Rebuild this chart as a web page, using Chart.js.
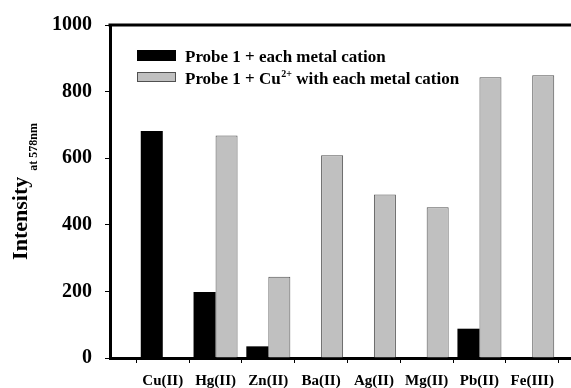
<!DOCTYPE html>
<html>
<head>
<meta charset="utf-8">
<script src="https://cdn.jsdelivr.net/npm/chart.js@4"></script>
<style>
  html, body { margin: 0; padding: 0; background: #fff; overflow: hidden; }
  #wrap { width: 571px; height: 388px; overflow: hidden; position: relative; }
  canvas { display: block; }
</style>
</head>
<body>
<div id="wrap"><canvas id="c" width="600" height="388"></canvas></div>
<script>
// ---- data ----
const categories = ['Cu(II)', 'Hg(II)', 'Zn(II)', 'Ba(II)', 'Ag(II)', 'Mg(II)', 'Pb(II)', 'Fe(III)'];
const probeOnly = [682, 198, 35, 0, 0, 0, 88, 0];
const probeCu = [0, 668, 244, 609, 491, 453, 843, 849];
const yTicks = [0, 200, 400, 600, 800, 1000];
const seriesNames = ['Probe 1 + each metal cation', 'Probe 1 + Cu', '2+', ' with each metal cation'];
const yTitleMain = 'Intensity';
const yTitleSub = 'at 578nm';

const SERIF = '"Liberation Serif", "Times New Roman", serif';

// padded labels so the category axis starts one step left of Cu(II)
const labels = [''].concat(categories, ['']);
const pad = arr => [null].concat(arr, [null]);

const framePlugin = {
  id: 'frame',
  afterDraw(chart) {
    const { ctx, chartArea: a } = chart;
    ctx.save();
    ctx.strokeStyle = '#000';
    ctx.lineWidth = 3;
    ctx.beginPath();
    ctx.moveTo(a.left - 1.5, a.top);
    ctx.lineTo(a.right + 2, a.top);
    ctx.lineTo(a.right, a.bottom);
    ctx.stroke();

    // y title with subscript
    ctx.fillStyle = '#000';
    ctx.translate(27, (a.top + a.bottom) / 2);
    ctx.rotate(-Math.PI / 2);
    ctx.font = 'bold 22px ' + SERIF;
    const w1 = ctx.measureText(yTitleMain).width;
    ctx.font = 'bold 12px ' + SERIF;
    const w2 = ctx.measureText(yTitleSub).width;
    const gap = 6;
    const total = w1 + gap + w2;
    ctx.textBaseline = 'alphabetic';
    ctx.textAlign = 'left';
    ctx.font = 'bold 22px ' + SERIF;
    ctx.fillText(yTitleMain, -total / 2, 0);
    ctx.font = 'bold 12px ' + SERIF;
    ctx.fillText(yTitleSub, -total / 2 + w1 + gap, 10);
    ctx.restore();

    // legend
    ctx.save();
    ctx.fillStyle = '#000';
    ctx.fillRect(137, 50, 39, 11);
    ctx.fillStyle = '#c0c0c0';
    ctx.fillRect(137, 72, 39, 10);
    ctx.strokeStyle = '#505050';
    ctx.lineWidth = 1;
    ctx.strokeRect(137.5, 72.5, 38, 9);
    ctx.fillStyle = '#000';
    ctx.textBaseline = 'alphabetic';
    ctx.textAlign = 'left';
    ctx.font = 'bold 17px ' + SERIF;
    ctx.fillText(seriesNames[0], 185, 62);
    let x = 185;
    ctx.fillText(seriesNames[1], x, 84);
    x += ctx.measureText(seriesNames[1]).width;
    ctx.font = 'bold 10px ' + SERIF;
    ctx.fillText(seriesNames[2], x + 0.5, 77);
    x += ctx.measureText(seriesNames[2]).width + 0.5;
    ctx.font = 'bold 17px ' + SERIF;
    ctx.fillText(seriesNames[3], x, 84);
    ctx.restore();
  }
};

new Chart(document.getElementById('c'), {
  type: 'bar',
  data: {
    labels: labels,
    datasets: [
      {
        label: seriesNames[0],
        data: pad(probeOnly),
        backgroundColor: '#000000',
        borderWidth: 0
      },
      {
        label: seriesNames[1] + seriesNames[2] + seriesNames[3],
        data: pad(probeCu),
        backgroundColor: '#c0c0c0',
        borderColor: '#505050',
        borderWidth: 1
      }
    ]
  },
  options: {
    responsive: false,
    animation: false,
    devicePixelRatio: 1,
    layout: { padding: { top: 21, right: 15, left: 0, bottom: 0 } },
    categoryPercentage: 0.834,
    barPercentage: 1,
    plugins: {
      legend: { display: false },
      tooltip: { enabled: false }
    },
    scales: {
      x: {
        type: 'category',
        offset: false,
        afterFit(s) { s.height = 30; },
        grid: { display: true, drawOnChartArea: false, drawTicks: true, tickLength: 5, color: '#000', lineWidth: 1 },
        border: { display: true, color: '#000', width: 3 },
        ticks: {
          autoSkip: false,
          maxRotation: 0,
          padding: 9,
          color: '#000',
          font: { family: SERIF, size: 15, weight: 'bold' }
        }
      },
      y: {
        min: 0,
        max: 1000,
        afterFit(s) { s.width = 110; },
        afterBuildTicks(s) { s.ticks = yTicks.map(v => ({ value: v })); },
        grid: { display: true, drawOnChartArea: false, drawTicks: true, tickLength: 5, color: '#000', lineWidth: 1 },
        border: { display: true, color: '#000', width: 3 },
        ticks: {
          padding: 13,
          color: '#000',
          font: { family: SERIF, size: 20, weight: 'bold' },
          callback: v => String(v)
        }
      }
    }
  },
  plugins: [framePlugin]
});
</script>
</body>
</html>
